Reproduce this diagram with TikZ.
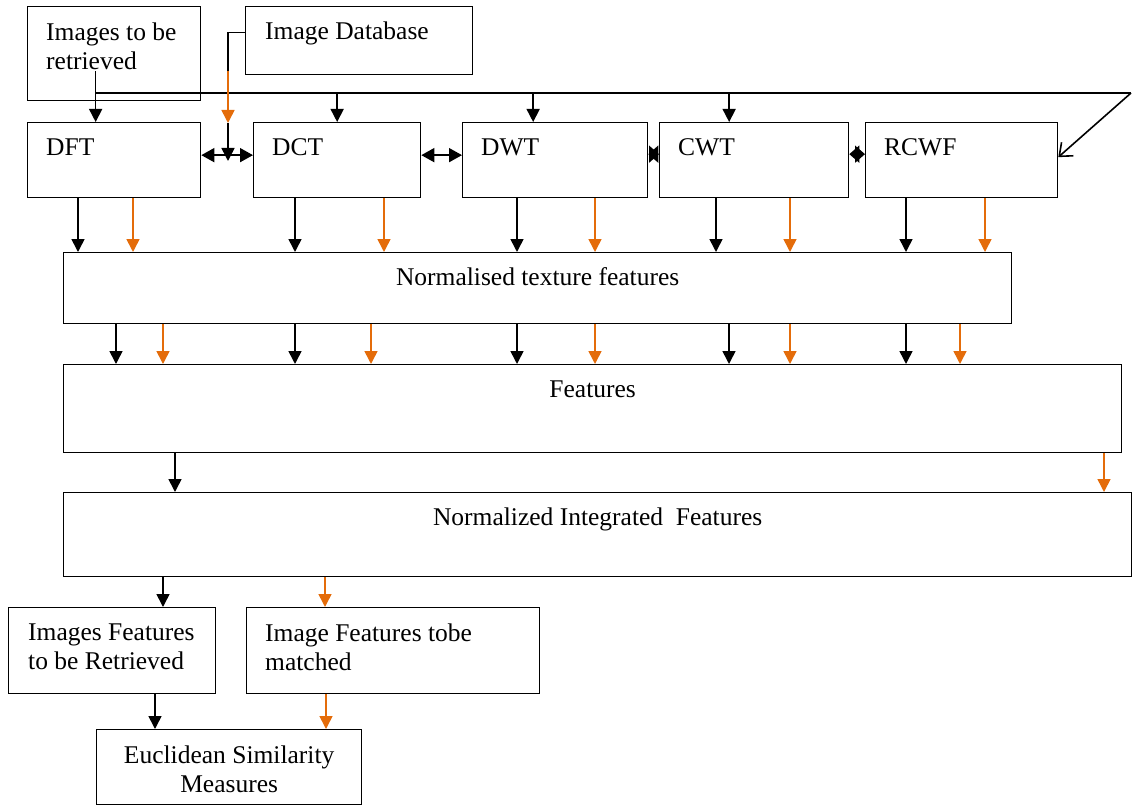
\documentclass[tikz,border=0pt]{standalone}
\usepackage{fontspec}
\setmainfont{Liberation Serif}
\usetikzlibrary{arrows.meta}
\definecolor{orng}{RGB}{228,108,10}

\begin{document}
\begin{tikzpicture}[x=1pt,y=-1pt,
  box/.style={draw,line width=1.3pt,anchor=north west,inner sep=0pt},
  txt/.style={anchor=north west,inner sep=0pt,align=left,font=\fontsize{25.5}{29}\selectfont,execute at begin node=\strut},
  ctxt/.style={txt,anchor=north,align=center},
  arr/.style={line width=1.6pt,-{Triangle[length=13pt,width=13pt]}},
  oarr/.style={arr,orng},
  darr/.style={line width=1.6pt,{Triangle[length=13pt,width=14pt]}-{Triangle[length=13pt,width=14pt]}},
  tarr/.style={line width=1.6pt,{Triangle[length=10pt,width=17pt]}-{Triangle[length=10pt,width=17pt]}}]
\useasboundingbox (0,0) rectangle (1132,805);
% boxes
\node[box,minimum width=173pt,minimum height=94pt] (ret) at (27,6) {};
\node[box,minimum width=227pt,minimum height=68pt] (db) at (245,6) {};
\node[box,minimum width=173pt,minimum height=75pt] (dft) at (27,122) {};
\node[box,minimum width=167pt,minimum height=75pt] (dct) at (253,122) {};
\node[box,minimum width=185pt,minimum height=75pt] (dwt) at (462,122) {};
\node[box,minimum width=189pt,minimum height=75pt] (cwt) at (659,122) {};
\node[box,minimum width=192pt,minimum height=75pt] (rcwf) at (865,122) {};
\node[box,minimum width=948pt,minimum height=71pt] (ntf) at (63,252) {};
\node[box,minimum width=1058pt,minimum height=88pt] (feat) at (63,364) {};
\node[box,minimum width=1068pt,minimum height=84pt] (nif) at (63,492) {};
\node[box,minimum width=207pt,minimum height=86pt] (ifr) at (8,607) {};
\node[box,minimum width=293pt,minimum height=86pt] (ifm) at (246,607) {};
\node[box,minimum width=265pt,minimum height=75pt] (esm) at (96,729) {};
% texts
\node[txt] (ret-t) at ([xshift=19pt,yshift=-16.7pt]ret.north west) {Images to be\\retrieved};
\node[txt] (db-t) at ([xshift=20pt,yshift=-12.7pt]db.north west) {Image Database};
\node[txt] (dft-t) at ([xshift=19pt,yshift=-12.7pt]dft.north west) {DFT};
\node[txt] (dct-t) at ([xshift=19pt,yshift=-12.7pt]dct.north west) {DCT};
\node[txt] (dwt-t) at ([xshift=19pt,yshift=-12.7pt]dwt.north west) {DWT};
\node[txt] (cwt-t) at ([xshift=19pt,yshift=-12.7pt]cwt.north west) {CWT};
\node[txt] (rcwf-t) at ([xshift=19pt,yshift=-12.7pt]rcwf.north west) {RCWF};
\node[ctxt] (ntf-t) at ([yshift=-12.7pt]ntf.north) {Normalised texture features};
\node[ctxt] (feat-t) at ([yshift=-12.7pt]feat.north) {Features};
\node[ctxt] (nif-t) at ([yshift=-12.7pt]nif.north) {Normalized Integrated\ \ Features};
\node[txt] (ifr-t) at ([xshift=20pt,yshift=-16.7pt]ifr.north west) {Images Features\\to be Retrieved};
\node[txt] (ifm-t) at ([xshift=19pt,yshift=-16.7pt]ifm.north west) {Image Features tobe\\matched};
\node[ctxt] (esm-t) at ([yshift=-16.7pt]esm.north) {Euclidean Similarity\\Measures};
% feeding the transforms
\coordinate (busl) at (95,93);
\coordinate (busr) at (1131,93);
\draw[arr] ([xshift=-18.5pt,yshift=30pt]ret.south) -- ([xshift=-18.5pt]dft.north);
\draw[line width=1.6pt] (busl) -- (busr);
\draw[line width=1.6pt,-{Straight Barb[length=11pt,width=18pt]}] (busr) -- ([yshift=3pt]rcwf.east);
\draw[arr] (dct.north |- busl) -- (dct.north);
\draw[arr] ([xshift=-22pt]dwt.north |- busl) -- ([xshift=-22pt]dwt.north);
\draw[arr] ([xshift=-25pt]cwt.north |- busl) -- ([xshift=-25pt]cwt.north);
\coordinate (dbk) at (228,71);
\coordinate (dbo) at (228,123);
\coordinate (dbj) at (228,161);
\draw[line width=1.3pt] ([yshift=8pt]db.west) -| (dbk);
\draw[oarr] (dbk) -- (dbo);
\draw[arr] (dbo) -- (dbj);
\draw[darr] ([yshift=5pt]dft.east) -- ([yshift=5pt]dct.west);
\draw[darr] ([yshift=5pt]dct.east) -- ([yshift=5pt]dwt.west);
\draw[tarr] ([yshift=6pt]dwt.east) -- ([yshift=6pt]cwt.west);
\draw[tarr] ([yshift=6pt]cwt.east) -- ([yshift=6pt]rcwf.west);
% transforms to normalised features
\draw[arr] (78,0 |- dft.south) -- (78,0 |- ntf.north);
\draw[oarr] (133,0 |- dft.south) -- (133,0 |- ntf.north);
\draw[arr] (295,0 |- dct.south) -- (295,0 |- ntf.north);
\draw[oarr] (384,0 |- dct.south) -- (384,0 |- ntf.north);
\draw[arr] (517,0 |- dwt.south) -- (517,0 |- ntf.north);
\draw[oarr] (595,0 |- dwt.south) -- (595,0 |- ntf.north);
\draw[arr] (716,0 |- cwt.south) -- (716,0 |- ntf.north);
\draw[oarr] (790,0 |- cwt.south) -- (790,0 |- ntf.north);
\draw[arr] (906,0 |- rcwf.south) -- (906,0 |- ntf.north);
\draw[oarr] (985,0 |- rcwf.south) -- (985,0 |- ntf.north);
% normalised features to features
\draw[arr] (116,0 |- ntf.south) -- (116,0 |- feat.north);
\draw[oarr] (163,0 |- ntf.south) -- (163,0 |- feat.north);
\draw[arr] (295,0 |- ntf.south) -- (295,0 |- feat.north);
\draw[oarr] (371,0 |- ntf.south) -- (371,0 |- feat.north);
\draw[arr] (517,0 |- ntf.south) -- (517,0 |- feat.north);
\draw[oarr] (595,0 |- ntf.south) -- (595,0 |- feat.north);
\draw[arr] (729,0 |- ntf.south) -- (729,0 |- feat.north);
\draw[oarr] (790,0 |- ntf.south) -- (790,0 |- feat.north);
\draw[arr] (906,0 |- ntf.south) -- (906,0 |- feat.north);
\draw[oarr] (960,0 |- ntf.south) -- (960,0 |- feat.north);
% integration and matching
\draw[arr] (175,0 |- feat.south) -- (175,0 |- nif.north);
\draw[oarr] (1104,0 |- feat.south) -- (1104,0 |- nif.north);
\draw[arr] (163,0 |- nif.south) -- (163,0 |- ifr.north);
\draw[oarr] (325,0 |- nif.south) -- (325,0 |- ifm.north);
\draw[arr] (155,0 |- ifr.south) -- (155,0 |- esm.north);
\draw[oarr] (326,0 |- ifm.south) -- (326,0 |- esm.north);
\end{tikzpicture}
\end{document}
